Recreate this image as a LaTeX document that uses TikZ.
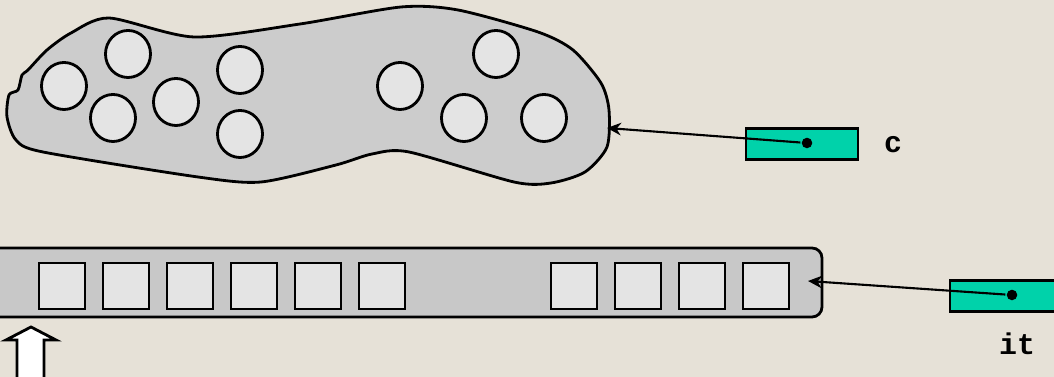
\documentclass[tikz,border=0pt]{standalone}
\usepackage{fontspec}
\setmonofont{Liberation Mono}
\usetikzlibrary{arrows.meta, positioning, calc, shapes.geometric}
\definecolor{paper}{RGB}{230,225,215}
\definecolor{blobgray}{RGB}{204,204,204}
\definecolor{bargray}{RGB}{200,200,200}
\definecolor{elemgray}{RGB}{228,228,228}
\definecolor{teal}{RGB}{0,210,170}

\begin{document}
\begin{tikzpicture}[x=0.01cm, y=-0.01cm, line width=0.8pt,
    elem/.style={ellipse, draw, fill=elemgray, inner sep=0pt, minimum width=4.5mm, minimum height=4.7mm},
    cell/.style={draw, fill=elemgray, inner sep=0pt, minimum size=4.6mm},
    ptrbox/.style={draw, fill=teal, inner sep=0pt, minimum height=3.1mm},
    dot/.style={circle, fill=black, inner sep=0pt, minimum size=3pt},
    ptr/.style={line width=0.6pt, -{Stealth[length=4pt, width=3.6pt]}},
    lbl/.style={font=\ttfamily\bfseries\fontsize{8.5}{10}\selectfont}]
  \useasboundingbox (0,0) rectangle (1054,377);
  \fill[paper] (0,0) rectangle (1054,377);
  \clip (0,0) rectangle (1054,377);

  % the collection
  \draw[fill=blobgray] plot[smooth cycle, tension=0.45] coordinates {
    (109,18) (194,37) (300,24) (401,7) (458,10) (538,32) (573,50)
    (601,83) (609,110) (607,147) (585,172) (551,183) (514,182)
    (409,152) (372,154) (336,165) (261,182) (198,177) (43,152)
    (16,140) (7,117) (9,95) (18,90) (22,75) (28,70) (47,50) (71,33)};
  \foreach \x/\y [count=\i] in {64/86, 128/54, 113/118, 176/102, 240/70,
      240/134, 400/86, 496/54, 464/118, 544/118}
    \node[elem] (e\i) at (\x,\y) {};
  \coordinate (ctip) at (607,128);

  \node[ptrbox, minimum width=11.2mm] (cbox) at (802,144) {};
  \node[dot] (cdot) at (807,143) {};
  \node[lbl] (clbl) at (893,145) {c};
  \draw[ptr] (cdot) -- (ctip);

  % the iterator
  \draw[fill=bargray, rounded corners=1mm] (-20,248) rectangle (822,317);
  \foreach \x [count=\i] in {62,126,190,254,318,382,574,638,702,766}
    \node[cell] (s\i) at (\x,286) {};
  \coordinate (itip) at (808,281);

  \node[ptrbox, minimum width=13mm] (itbox) at (1015,296) {};
  \node[dot] (itdot) at (1012,295) {};
  \node[lbl] (itlbl) at (1017,344) {it};
  \draw[ptr] (itdot) -- (itip);

  % current position
  \draw[fill=white] (17,385) -- (17,340) -- (6,340) -- (31,327)
    -- (56,340) -- (44,340) -- (44,385) -- cycle;
\end{tikzpicture}
\end{document}
